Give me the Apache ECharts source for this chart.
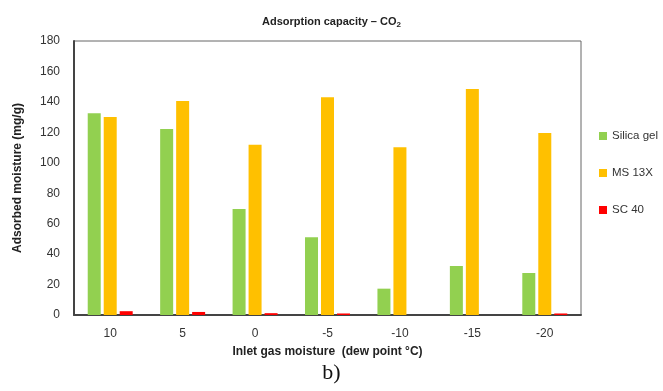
<!DOCTYPE html>
<html>
<head>
<meta charset="utf-8">
<script src="https://cdn.jsdelivr.net/npm/echarts@6/dist/echarts.min.js"></script>
<style>
html,body{margin:0;padding:0;background:#fff;}
#main{width:663px;height:391px;}
</style>
</head>
<body>
<div id="main"></div>
<script>
var categories = ['10', '5', '0', '-5', '-10', '-15', '-20'];
var silicaGel = [132.5, 122.2, 69.6, 51, 17.3, 32.2, 27.6];
var ms13x = [130, 140.6, 111.9, 143, 110.2, 148.5, 119.6];
var sc40 = [2.5, 2, 1.2, 1, 0, 0, 1];
var yTicks = [0, 20, 40, 60, 80, 100, 120, 140, 160, 180];

var chart = echarts.init(document.getElementById('main'));
var font = 'Liberation Sans';

function barSeries(name, data, color){
    return {
        name: name,
        type: 'bar',
        data: data,
        barWidth: 13,
        barGap: '23%',
        itemStyle: {color: color},
        emphasis: {disabled: true}
    };
}

var option = {
    animation: false,
    backgroundColor: '#fff',
    textStyle: {fontFamily: font},
    title: {
        text: 'Adsorption capacity \u2013 CO{sub|2}',
        left: 'center',
        top: 10,
        textStyle: {
            fontFamily: font, fontSize: 11, fontWeight: 'bold', color: '#222',
            rich: {sub: {fontSize: 8, fontWeight: 'bold', color: '#222', verticalAlign: 'bottom', padding: [6, 0, 0, 0]}}
        }
    },
    legend: {
        orient: 'vertical',
        left: 594,
        top: 125,
        itemWidth: 8,
        itemHeight: 8,
        itemGap: 25,
        icon: 'rect',
        textStyle: {fontFamily: font, fontSize: 11.5, color: '#333'},
        data: ['Silica gel', 'MS 13X', 'SC 40']
    },
    grid: {
        left: 74, right: 82, top: 41, bottom: 76,
        show: true,
        borderColor: '#666',
        borderWidth: 1
    },
    xAxis: {
        type: 'category',
        data: categories,
        name: 'Inlet gas moisture  (dew point \u00b0C)',
        nameLocation: 'middle',
        nameGap: 31,
        nameTextStyle: {fontFamily: font, fontSize: 12, fontWeight: 'bold', color: '#222'},
        axisLine: {lineStyle: {color: '#444', width: 2}},
        axisTick: {show: false},
        axisLabel: {fontFamily: font, fontSize: 12, color: '#333', margin: 13}
    },
    yAxis: {
        type: 'value',
        min: 0,
        max: 180,
        interval: 20,
        name: 'Adsorbed moisture (mg/g)',
        nameLocation: 'middle',
        nameGap: 50,
        nameTextStyle: {fontFamily: font, fontSize: 12, fontWeight: 'bold', color: '#222'},
        axisLine: {show: true, lineStyle: {color: '#444', width: 2}},
        axisTick: {show: false},
        splitLine: {show: false},
        axisLabel: {
            fontFamily: font, fontSize: 12, color: '#333', margin: 14,
            formatter: function(v){ return yTicks.indexOf(v) >= 0 ? String(v) : ''; }
        }
    },
    graphic: [{
        type: 'text',
        left: 'center',
        top: 362,
        style: {text: 'b)', font: '22px "Liberation Serif"', fill: '#111'}
    }],
    series: [
        barSeries('Silica gel', silicaGel, '#92d050'),
        barSeries('MS 13X', ms13x, '#ffc000'),
        barSeries('SC 40', sc40, '#ff0000')
    ]
};
chart.setOption(option);
</script>
</body>
</html>
